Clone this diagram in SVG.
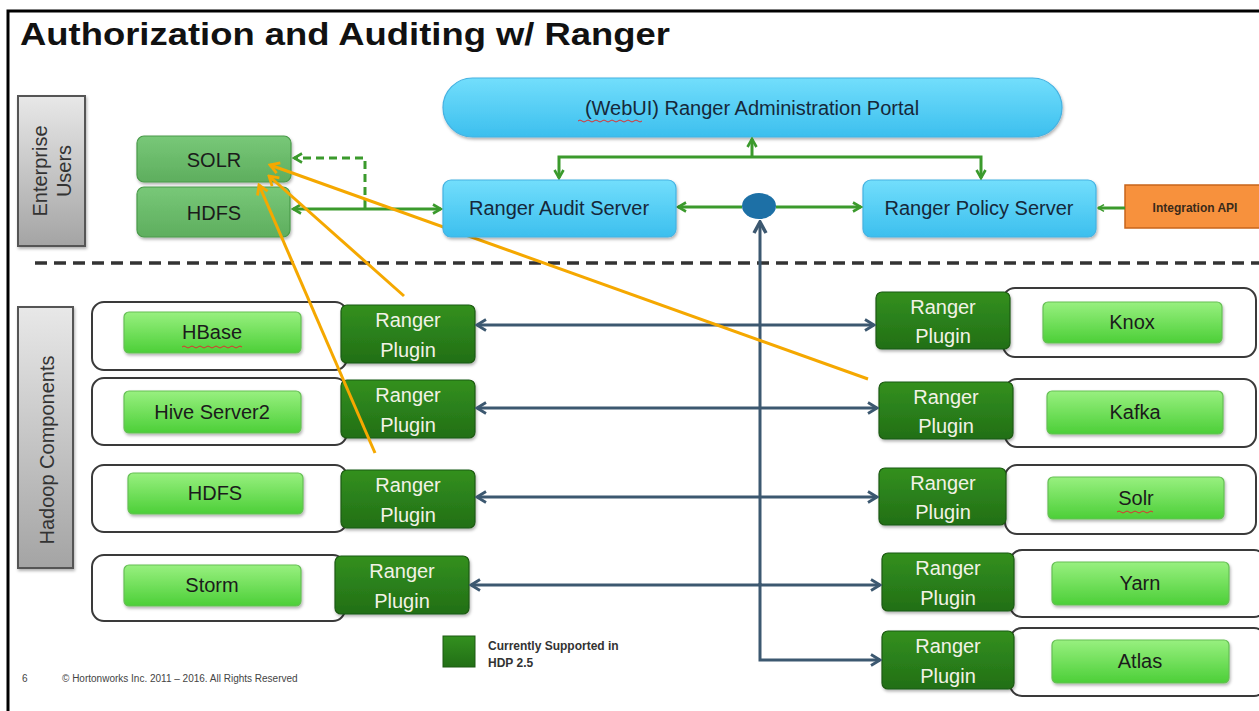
<svg xmlns="http://www.w3.org/2000/svg" width="1259" height="711" viewBox="0 0 1259 711">
<style>
text{font-family:"Liberation Sans",Arial,sans-serif}
.cont{fill:#fff;stroke:#3a3a3a;stroke-width:2}
.lime{fill:url(#gLime);stroke:#66bf55;stroke-width:1.2}
.plug{fill:url(#gPlug);stroke:#1d5a12;stroke-width:1.2}
.blue{fill:url(#gBlue);stroke:#45b2e2;stroke-width:1.2}
.eu{fill:url(#gEu);stroke:#4a9a4a;stroke-width:1.2}
.side{fill:url(#gGray);stroke:#555;stroke-width:2}
.tc{font-size:20px;fill:#1b1b1b;text-anchor:middle}
.tp{font-size:20px;fill:#f2f2e6;text-anchor:middle}
.ts{font-size:20px;fill:#16283a;text-anchor:middle}
.tside{font-size:20px;fill:#333;text-anchor:middle}
.gl{fill:none;stroke:#3b9a2c;stroke-width:3}
.bl{fill:none;stroke:#3c5870;stroke-width:3}
.ol{fill:none;stroke:#f5a800;stroke-width:3}
.sq{fill:none;stroke:#e03030;stroke-width:1}
</style>
<defs>
<linearGradient id="gLime" x1="0" y1="0" x2="0" y2="1"><stop offset="0" stop-color="#98f07f"/><stop offset="1" stop-color="#4ccf38"/></linearGradient>
<linearGradient id="gPlug" x1="0" y1="0" x2="0" y2="1"><stop offset="0" stop-color="#33901f"/><stop offset="1" stop-color="#226f16"/></linearGradient>
<linearGradient id="gBlue" x1="0" y1="0" x2="0" y2="1"><stop offset="0" stop-color="#72defc"/><stop offset="1" stop-color="#3cbfee"/></linearGradient>
<linearGradient id="gEu" x1="0" y1="0" x2="0" y2="1"><stop offset="0" stop-color="#78c878"/><stop offset="1" stop-color="#5eae5e"/></linearGradient>
<linearGradient id="gGray" x1="0" y1="0" x2="0" y2="1"><stop offset="0" stop-color="#e8e8e8"/><stop offset="1" stop-color="#a4a4a4"/></linearGradient>
<filter id="sh" x="-10%" y="-10%" width="120%" height="130%"><feDropShadow dx="1" dy="2" stdDeviation="1.5" flood-color="#000" flood-opacity="0.3"/></filter>
<marker id="ag" viewBox="0 0 12 12" refX="10" refY="6" markerWidth="12" markerHeight="12" markerUnits="userSpaceOnUse" orient="auto-start-reverse"><path d="M2,1.5 L10,6 L2,10.5" fill="none" stroke="#3b9a2c" stroke-width="2.6"/></marker>
<marker id="agS" viewBox="0 0 12 12" refX="10" refY="6" markerWidth="9" markerHeight="9" markerUnits="userSpaceOnUse" orient="auto-start-reverse"><path d="M2,1.5 L10,6 L2,10.5" fill="none" stroke="#3b9a2c" stroke-width="2"/></marker>
<marker id="ab" viewBox="0 0 14 14" refX="12" refY="7" markerWidth="14" markerHeight="14" markerUnits="userSpaceOnUse" orient="auto-start-reverse"><path d="M3,1.5 L12,7 L3,12.5" fill="none" stroke="#3c5870" stroke-width="2.8"/></marker>
<marker id="abB" viewBox="0 0 16 16" refX="14" refY="8" markerWidth="16" markerHeight="16" markerUnits="userSpaceOnUse" orient="auto-start-reverse"><path d="M3,2 L14,8 L3,14" fill="none" stroke="#3c5870" stroke-width="3.5"/></marker>
<marker id="ao" viewBox="0 0 14 14" refX="12" refY="7" markerWidth="14" markerHeight="14" markerUnits="userSpaceOnUse" orient="auto"><path d="M3,1.5 L12,7 L3,12.5" fill="none" stroke="#f5a800" stroke-width="2.8"/></marker>
</defs>

<rect x="0" y="0" width="1259" height="711" fill="#fff"/>
<path d="M8,711 V11 H1259" fill="none" stroke="#000" stroke-width="3"/>
<text x="20" y="45" font-size="32" font-weight="bold" fill="#111" textLength="650" lengthAdjust="spacingAndGlyphs">Authorization and Auditing w/ Ranger</text>

<g id="enterprise-users">
<rect class="side" x="18" y="96" width="67" height="150" filter="url(#sh)"/>
<text class="tside" transform="translate(47,171) rotate(-90)">Enterprise</text>
<text class="tside" transform="translate(71,171) rotate(-90)">Users</text>
</g>
<g id="hadoop-components">
<rect class="side" x="18" y="307" width="55" height="261" filter="url(#sh)"/>
<text class="tside" font-size="21" transform="translate(54,450) rotate(-90)">Hadoop Components</text>
</g>

<g id="eu-solr"><rect class="eu" x="137" y="136" width="154" height="46" rx="7" filter="url(#sh)"/><text class="tc" x="214" y="167" fill="#1f2f1f">SOLR</text></g>
<g id="eu-hdfs"><rect class="eu" x="137" y="187" width="153" height="50" rx="7" filter="url(#sh)"/><text class="tc" x="214" y="220">HDFS</text></g>

<line x1="35" y1="263" x2="1259" y2="263" stroke="#333" stroke-width="3.5" stroke-dasharray="12 7"/>

<g id="admin-portal"><rect class="blue" x="443" y="78" width="619" height="59" rx="29.5" filter="url(#sh)"/><text class="ts" x="752" y="115" font-size="21">(WebUI) Ranger Administration Portal</text><path class="sq" d="M578,121 q2,-2 4,0 t4,0 t4,0 t4,0 t4,0 t4,0 t4,0 t4,0 t4,0 t4,0 t4,0 t4,0 t4,0 t4,0 t4,0 t4,0"/></g>
<g id="policy-server"><rect class="blue" x="863" y="180" width="233" height="57" rx="8" filter="url(#sh)"/><text class="ts" x="979" y="215">Ranger Policy Server</text></g>
<g id="integration-api"><rect x="1125" y="185" width="140" height="43" fill="#f7913d" stroke="#c8641a" stroke-width="1.5"/><text x="1195" y="212" font-size="12" font-weight="bold" fill="#3a2a1a" text-anchor="middle">Integration API</text></g>
<g id="hub"><ellipse cx="759" cy="206" rx="17" ry="13" fill="#1d70a6"/></g>

<g id="row-hbase"><rect class="cont" x="92" y="302" width="255" height="68" rx="12"/><rect class="lime" x="124" y="312" width="177" height="41" rx="5" filter="url(#sh)"/><text class="tc" x="212" y="339">HBase</text><path class="sq" d="M182,347 q2,-2 4,0 t4,0 t4,0 t4,0 t4,0 t4,0 t4,0 t4,0 t4,0 t4,0 t4,0 t4,0 t4,0 t4,0 t4,0"/></g>
<g id="row-hive"><rect class="cont" x="92" y="378" width="255" height="67" rx="12"/><rect class="lime" x="124" y="391" width="177" height="42" rx="5" filter="url(#sh)"/><text class="tc" x="212" y="419">Hive Server2</text></g>
<g id="row-hdfs"><rect class="cont" x="92" y="465" width="255" height="67" rx="12"/><rect class="lime" x="128" y="473" width="175" height="41" rx="5" filter="url(#sh)"/><text class="tc" x="215" y="500">HDFS</text></g>
<g id="row-storm"><rect class="cont" x="92" y="555" width="253" height="66" rx="12"/><rect class="lime" x="124" y="565" width="177" height="41" rx="5" filter="url(#sh)"/><text class="tc" x="212" y="592">Storm</text></g>

<g id="plugin-hbase"><rect class="plug" x="341" y="305" width="134" height="58" rx="6" filter="url(#sh)"/><text class="tp" x="408" y="327">Ranger</text><text class="tp" x="408" y="357">Plugin</text></g>
<g id="plugin-hive"><rect class="plug" x="341" y="380" width="134" height="58" rx="6" filter="url(#sh)"/><text class="tp" x="408" y="402">Ranger</text><text class="tp" x="408" y="432">Plugin</text></g>
<g id="plugin-hdfs"><rect class="plug" x="341" y="470" width="134" height="58" rx="6" filter="url(#sh)"/><text class="tp" x="408" y="492">Ranger</text><text class="tp" x="408" y="522">Plugin</text></g>
<g id="plugin-storm"><rect class="plug" x="335" y="556" width="134" height="58" rx="6" filter="url(#sh)"/><text class="tp" x="402" y="578">Ranger</text><text class="tp" x="402" y="608">Plugin</text></g>

<g id="row-knox"><rect class="cont" x="1003" y="288" width="253" height="69" rx="12"/><rect class="lime" x="1043" y="302" width="179" height="41" rx="5" filter="url(#sh)"/><text class="tc" x="1132" y="329">Knox</text></g>
<g id="row-kafka"><rect class="cont" x="1005" y="379" width="251" height="68" rx="12"/><rect class="lime" x="1047" y="391" width="176" height="43" rx="5" filter="url(#sh)"/><text class="tc" x="1135" y="419">Kafka</text></g>
<g id="row-solr"><rect class="cont" x="1005" y="465" width="251" height="69" rx="12"/><rect class="lime" x="1048" y="477" width="176" height="42" rx="5" filter="url(#sh)"/><text class="tc" x="1136" y="505">Solr</text><path class="sq" d="M1117,512 q2,-2 4,0 t4,0 t4,0 t4,0 t4,0 t4,0 t4,0 t4,0 t4,0"/></g>
<g id="row-yarn"><rect class="cont" x="1010" y="550" width="256" height="67" rx="12"/><rect class="lime" x="1052" y="562" width="177" height="43" rx="5" filter="url(#sh)"/><text class="tc" x="1140" y="590">Yarn</text></g>
<g id="row-atlas"><rect class="cont" x="1010" y="628" width="256" height="68" rx="12"/><rect class="lime" x="1052" y="640" width="177" height="43" rx="5" filter="url(#sh)"/><text class="tc" x="1140" y="668">Atlas</text></g>

<g id="plugin-knox"><rect class="plug" x="876" y="292" width="134" height="57" rx="6" filter="url(#sh)"/><text class="tp" x="943" y="314">Ranger</text><text class="tp" x="943" y="343">Plugin</text></g>
<g id="plugin-kafka"><rect class="plug" x="879" y="382" width="134" height="57" rx="6" filter="url(#sh)"/><text class="tp" x="946" y="404">Ranger</text><text class="tp" x="946" y="433">Plugin</text></g>
<g id="plugin-solr"><rect class="plug" x="879" y="468" width="127" height="57" rx="6" filter="url(#sh)"/><text class="tp" x="943" y="490">Ranger</text><text class="tp" x="943" y="519">Plugin</text></g>
<g id="plugin-yarn"><rect class="plug" x="882" y="553" width="132" height="58" rx="6" filter="url(#sh)"/><text class="tp" x="948" y="575">Ranger</text><text class="tp" x="948" y="605">Plugin</text></g>
<g id="plugin-atlas"><rect class="plug" x="882" y="631" width="132" height="58" rx="6" filter="url(#sh)"/><text class="tp" x="948" y="653">Ranger</text><text class="tp" x="948" y="683">Plugin</text></g>

<g id="legend">
<rect x="443" y="636" width="32" height="31" fill="url(#gPlug)" stroke="#1d5a12"/>
<text x="488" y="650" font-size="12" font-weight="bold" fill="#333">Currently Supported in</text>
<text x="488" y="667" font-size="12" font-weight="bold" fill="#333">HDP 2.5</text>
</g>
<g id="footer">
<text x="22" y="682" font-size="10" fill="#444">6</text>
<text x="62" y="682" font-size="10" fill="#444">© Hortonworks Inc. 2011 – 2016. All Rights Reserved</text>
</g>

<g id="connectors">
<path class="gl" d="M365,208 V158 H294" stroke-dasharray="8 5" marker-end="url(#ag)"/>
<path class="gl" d="M293,209 H441" marker-start="url(#ag)" marker-end="url(#ag)"/>
<path class="gl" d="M559,178 V157 H981 V178" marker-start="url(#ag)" marker-end="url(#ag)"/>
<path class="gl" d="M752,157 V139" marker-end="url(#ag)"/>
<path class="gl" d="M678,207 H742" marker-start="url(#ag)"/>
<path class="gl" d="M776,207 H861" marker-end="url(#ag)"/>
<path class="gl" d="M1125,208 H1098" stroke-width="1.5" marker-end="url(#agS)"/>
<path class="bl" d="M760,585 V222" stroke-width="5.5" marker-end="url(#abB)"/>
<path class="bl" d="M760,583 V660 H880" marker-end="url(#ab)"/>
<path class="bl" d="M477,325 H874" marker-start="url(#ab)" marker-end="url(#ab)"/>
<path class="bl" d="M477,408 H877" marker-start="url(#ab)" marker-end="url(#ab)"/>
<path class="bl" d="M477,497 H877" marker-start="url(#ab)" marker-end="url(#ab)"/>
<path class="bl" d="M471,585 H880" marker-start="url(#ab)" marker-end="url(#ab)"/>
<path class="ol" d="M868,379 L270,165" marker-end="url(#ao)"/>
<path class="ol" d="M404,296 L269,176" marker-end="url(#ao)"/>
<path class="ol" d="M375,453 L259,185" marker-end="url(#ao)"/>
</g>

<g id="audit-server"><rect class="blue" x="443" y="180" width="233" height="57" rx="8" filter="url(#sh)"/><text class="ts" x="559" y="215">Ranger Audit Server</text></g>
</svg>
